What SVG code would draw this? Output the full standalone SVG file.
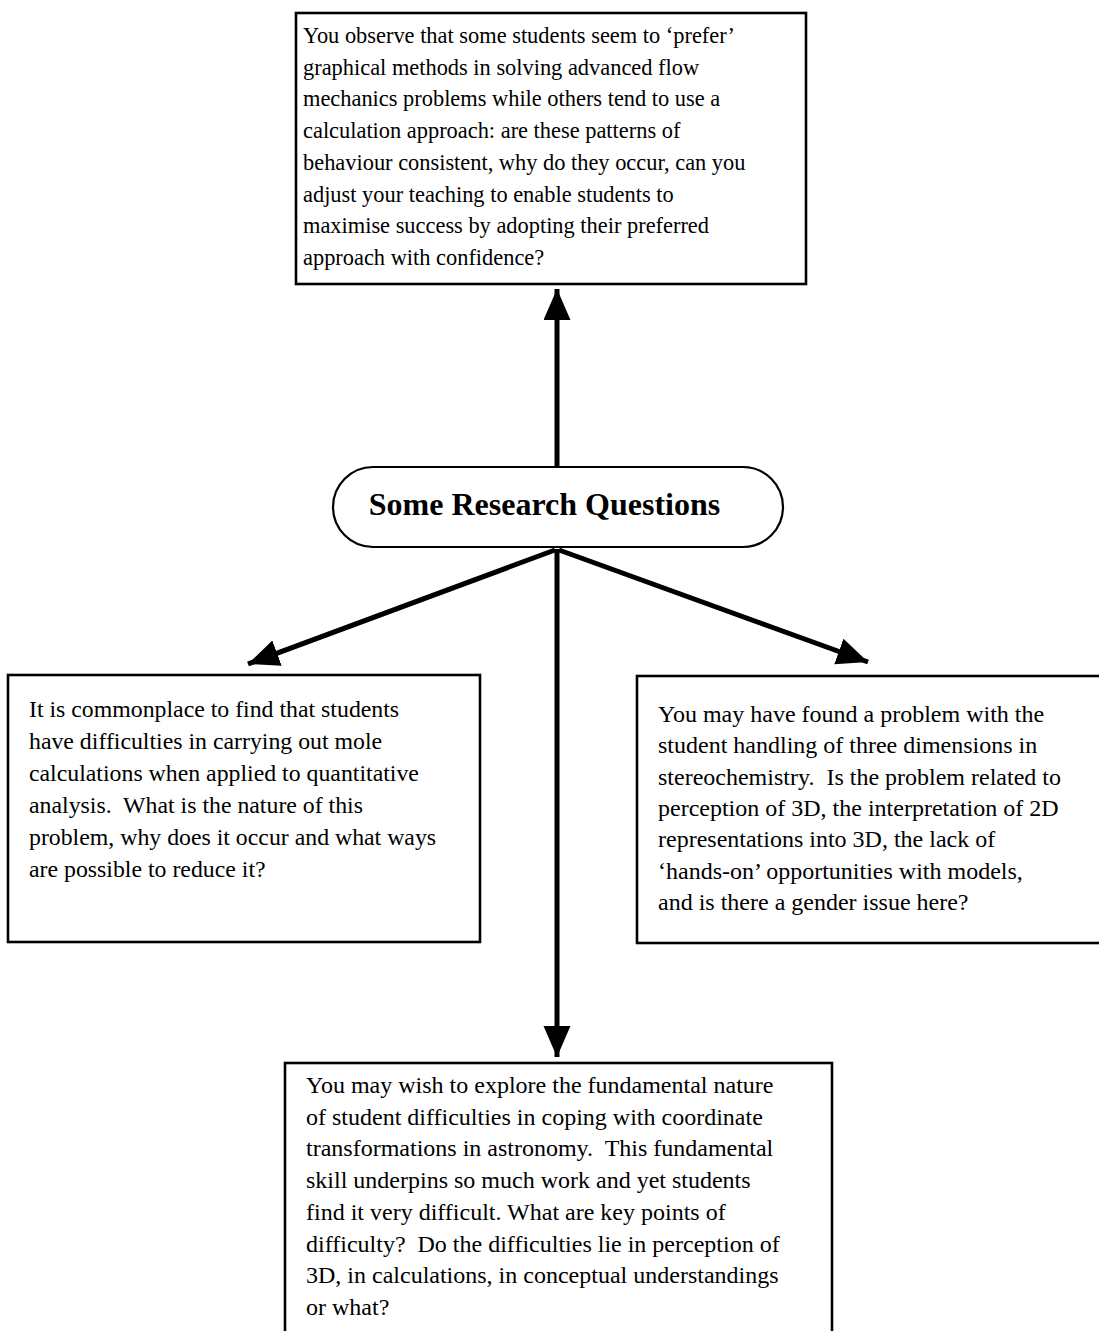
<svg xmlns="http://www.w3.org/2000/svg" width="1099" height="1331" viewBox="0 0 1099 1331">
<style>
.box{fill:#fff;stroke:#000;stroke-width:2.6}
.oval{fill:#fff;stroke:#000;stroke-width:2.2}
.t{font-family:"Liberation Serif","Times New Roman",serif;fill:#000}
.t1{font-size:22.4px}
.t2{font-size:23.8px}
.t3{font-size:24px}
.title{font-family:"Liberation Serif","Times New Roman",serif;font-size:32px;font-weight:bold;fill:#000}
.conn{stroke:#000;stroke-width:5;fill:none}
</style>
<defs>
<marker id="ah" markerUnits="userSpaceOnUse" markerWidth="32" markerHeight="28" refX="31" refY="13.5" orient="auto">
<path d="M0,0 L31,13.5 L0,27 Z" fill="#000"/>
</marker>
</defs>
<rect width="1099" height="1331" fill="#fff"/>
<g id="connectors">
<line class="conn" x1="557" y1="467" x2="557" y2="289" marker-end="url(#ah)"/>
<line class="conn" x1="555" y1="550" x2="248" y2="664" marker-end="url(#ah)"/>
<line class="conn" x1="559" y1="550" x2="868" y2="662" marker-end="url(#ah)"/>
<line class="conn" x1="557" y1="549" x2="557" y2="1057" marker-end="url(#ah)"/>
</g>
<g id="node-top">
<rect class="box" x="296" y="13" width="510" height="271"/>
<text class="t t1">
<tspan x="303" y="43">You observe that some students seem to ‘prefer’</tspan>
<tspan x="303" y="74.7">graphical methods in solving advanced flow</tspan>
<tspan x="303" y="106.4">mechanics problems while others tend to use a</tspan>
<tspan x="303" y="138.1">calculation approach: are these patterns of</tspan>
<tspan x="303" y="169.8">behaviour consistent, why do they occur, can you</tspan>
<tspan x="303" y="201.5">adjust your teaching to enable students to</tspan>
<tspan x="303" y="233.2">maximise success by adopting their preferred</tspan>
<tspan x="303" y="264.9">approach with confidence?</tspan>
</text>
</g>
<g id="node-center">
<rect class="oval" x="333" y="467" width="450" height="80" rx="40" ry="40"/>
<text class="title" x="544.5" y="515" text-anchor="middle">Some Research Questions</text>
</g>
<g id="node-left">
<rect class="box" x="8" y="675" width="472" height="267"/>
<text class="t t2">
<tspan x="29" y="717">It is commonplace to find that students</tspan>
<tspan x="29" y="749">have difficulties in carrying out mole</tspan>
<tspan x="29" y="781">calculations when applied to quantitative</tspan>
<tspan x="29" y="813">analysis.&#160; What is the nature of this</tspan>
<tspan x="29" y="845">problem, why does it occur and what ways</tspan>
<tspan x="29" y="877">are possible to reduce it?</tspan>
</text>
</g>
<g id="node-right">
<rect class="box" x="637" y="676" width="470" height="267"/>
<text class="t t3">
<tspan x="658" y="722">You may have found a problem with the</tspan>
<tspan x="658" y="753.3">student handling of three dimensions in</tspan>
<tspan x="658" y="784.7">stereochemistry.&#160; Is the problem related to</tspan>
<tspan x="658" y="816">perception of 3D, the interpretation of 2D</tspan>
<tspan x="658" y="847.3">representations into 3D, the lack of</tspan>
<tspan x="658" y="878.7">‘hands-on’ opportunities with models,</tspan>
<tspan x="658" y="910">and is there a gender issue here?</tspan>
</text>
</g>
<g id="node-bottom">
<rect class="box" x="285" y="1063" width="547" height="290"/>
<text class="t t3">
<tspan x="306" y="1093">You may wish to explore the fundamental nature</tspan>
<tspan x="306" y="1124.7">of student difficulties in coping with coordinate</tspan>
<tspan x="306" y="1156.4">transformations in astronomy.&#160; This fundamental</tspan>
<tspan x="306" y="1188.1">skill underpins so much work and yet students</tspan>
<tspan x="306" y="1219.8">find it very difficult. What are key points of</tspan>
<tspan x="306" y="1251.5">difficulty?&#160; Do the difficulties lie in perception of</tspan>
<tspan x="306" y="1283.2">3D, in calculations, in conceptual understandings</tspan>
<tspan x="306" y="1315">or what?</tspan>
</text>
</g>
</svg>
